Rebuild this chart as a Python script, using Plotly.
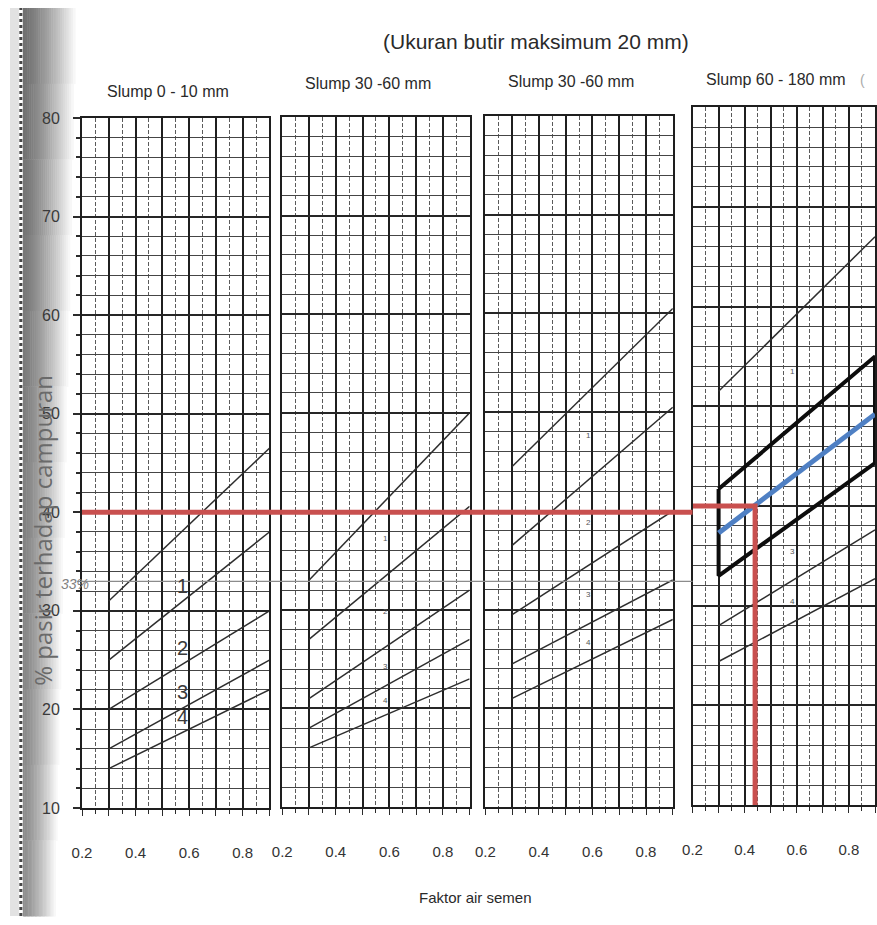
import plotly.graph_objects as go

# Faktor air semen at which every design curve starts and ends
fas_ujung = [0.3, 0.9]

# % pasir terhadap campuran at fas 0.3 and 0.9, curves 1..5 (top to bottom)
pasir_slump_0_10 = [[31, 46.5], [25, 38], [20, 30], [16, 25], [14, 22]]
pasir_slump_30_60_a = [[33, 50], [27, 40.5], [21, 32], [18, 27], [16, 23]]
pasir_slump_30_60_b = [[44.5, 60.5], [36.5, 50.5], [29.5, 40], [24.5, 33], [21, 29]]
pasir_slump_60_180 = [[51.5, 67], [41.7, 55], [33, 44.3], [28, 37.6], [24.4, 32.7]]

# Zone labels (numbers written between the curves)
label_panel1 = ["1", "2", "3", "4"]
label_kecil = ["1", "2", "3", "4"]
label_panel4 = ["1", "", "3", "4"]

# Selected design: middle line of the zone, chosen fas and resulting % sand
garis_tengah = [37.3, 49.2]
fas_terpilih = 0.44
pasir_terpilih = 40
pasir_catatan = 33

judul_panel = ["Slump 0 - 10 mm", "Slump 30 -60 mm", "Slump 30 -60 mm", "Slump 60 - 180 mm"]
x_ticks = [0.2, 0.3, 0.4, 0.5, 0.6, 0.7, 0.8, 0.9]
x_ticktext = ["0.2", "", "0.4", "", "0.6", "", "0.8", ""]
y_ticks = [10, 20, 30, 40, 50, 60, 70, 80]

W, H = 877, 925
FONT = "Liberation Sans Narrow, Arial Narrow, Liberation Sans, sans-serif"
INK = "#2b2b2b"


def px(x):
    return x / W


def py(y):
    return 1 - y / H


# panel placement (pixel edges)
panels_x = [(73, 263), (276, 466), (482, 672), (692, 877)]
panels_y = [(112, 815), (111, 814), (110, 814), (101, 812)]

fig = go.Figure()

for i, ((x0, x1), (y0, y1)) in enumerate(zip(panels_x, panels_y)):
    n = "" if i == 0 else str(i + 1)
    fig.layout["xaxis" + n] = dict(
        domain=[px(x0), px(x1)], range=[0.2, 0.9], anchor="y" + n,
        tickmode="array", tickvals=x_ticks, ticktext=x_ticktext,
        showgrid=True, gridcolor="#1f1f1f", gridwidth=1.6,
        minor=dict(tickmode="linear", tick0=0.2, dtick=0.05, showgrid=True,
                   gridcolor="#5a5a5a", gridwidth=1, griddash="4px,2px",
                   ticks="outside", ticklen=4, tickcolor=INK),
        ticks="outside", ticklen=6, tickcolor=INK, tickwidth=1.2,
        showline=True, mirror=True, linecolor="#1e1e1e", linewidth=2,
        zeroline=False, ticklabelstandoff=24,
        tickfont=dict(family=FONT, size=15, color="#333"),
    )
    fig.layout["yaxis" + n] = dict(
        domain=[py(y1), py(y0)], range=[10, 80], anchor="x" + n,
        tickmode="array", tickvals=y_ticks,
        showticklabels=(i == 0),
        showgrid=True, gridcolor="#262626", gridwidth=2.2,
        minor=dict(tickmode="linear", tick0=10, dtick=2, showgrid=True,
                   gridcolor="#454545", gridwidth=1.2,
                   ticks="outside" if i == 0 else "", ticklen=4, tickcolor=INK),
        ticks="outside" if i == 0 else "", ticklen=7, tickcolor=INK, tickwidth=1.5,
        showline=True, mirror=True, linecolor="#1e1e1e", linewidth=2,
        zeroline=False, ticklabelstandoff=10,
        tickfont=dict(family=FONT, size=16, color="#3a3a3a"),
    )

data_panels = [pasir_slump_0_10, pasir_slump_30_60_a, pasir_slump_30_60_b, pasir_slump_60_180]


def nilai(garis, x):
    a, b = garis
    return a + (b - a) * (x - fas_ujung[0]) / (fas_ujung[1] - fas_ujung[0])


for i, kurva in enumerate(data_panels):
    n = "" if i == 0 else str(i + 1)
    for garis in kurva:
        fig.add_trace(go.Scatter(
            x=fas_ujung, y=garis, mode="lines", xaxis="x" + n, yaxis="y" + n,
            line=dict(color="#2e2e2e", width=1.5), showlegend=False, hoverinfo="skip"))

# big zone numbers in the first panel, sitting just above the lower curve
for k, teks in enumerate(label_panel1):
    xl = 0.575
    fig.add_annotation(x=xl, y=nilai(pasir_slump_0_10[k + 1], xl) + 1.6,
                       xref="x", yref="y", text=teks, showarrow=False,
                       xanchor="center", yanchor="middle",
                       font=dict(family=FONT, size=20, color="#3a3a3a"))

# small zone numbers in the other panels, between consecutive curves
for i, (kurva, teks_list) in enumerate(zip(data_panels[1:], [label_kecil, label_kecil, label_panel4])):
    n = str(i + 2)
    xl = 0.585
    for k, teks in enumerate(teks_list):
        if not teks:
            continue
        ym = (nilai(kurva[k], xl) + nilai(kurva[k + 1], xl)) / 2
        fig.add_annotation(x=xl, y=ym, xref="x" + n, yref="y" + n, text=teks,
                           showarrow=False, xanchor="center", yanchor="middle",
                           font=dict(family=FONT, size=8, color="#555"))

# zone chosen in the last panel: outline between curves 2 and 3
atas, bawah = pasir_slump_60_180[1], pasir_slump_60_180[2]
fig.add_trace(go.Scatter(
    x=[fas_ujung[0], fas_ujung[1], fas_ujung[1], fas_ujung[0], fas_ujung[0]],
    y=[atas[0], atas[1], bawah[1], bawah[0], atas[0]],
    mode="lines", xaxis="x4", yaxis="y4",
    line=dict(color="#0d0d0d", width=4), showlegend=False, hoverinfo="skip"))

# middle line of the zone
fig.add_trace(go.Scatter(
    x=fas_ujung, y=garis_tengah, mode="lines", xaxis="x4", yaxis="y4",
    line=dict(color="#4f80c4", width=5), showlegend=False, hoverinfo="skip"))

# reading: fas -> % sand
fig.add_trace(go.Scatter(
    x=[0.2, fas_terpilih, fas_terpilih], y=[pasir_terpilih, pasir_terpilih, 10],
    mode="lines", xaxis="x4", yaxis="y4",
    line=dict(color="#c9504f", width=5), showlegend=False, hoverinfo="skip"))

shapes = []
# left page shadow of the scanned book: darker and wider near the top
n_band, steps = 12, 24
for b in range(n_band):
    ya, yb = H * b / n_band, H * (b + 1) / n_band
    frac = b / (n_band - 1)
    lebar = 66 - 20 * frac
    g0 = 112 + 30 * frac
    for s in range(steps):
        xa = 13 + (lebar - 13) * s / steps
        xb = 13 + (lebar - 13) * (s + 1) / steps
        t = (s / steps) ** 1.3
        g = int(g0 + (255 - g0) * t)
        shapes.append(dict(type="rect", xref="paper", yref="paper",
                           x0=px(xa), x1=px(xb) + 0.0006, y0=py(yb) - 0.0005, y1=py(ya),
                           fillcolor=f"rgb({g},{g},{g})", line=dict(width=0), layer="below"))
shapes.append(dict(type="rect", xref="paper", yref="paper", x0=0, x1=px(9), y0=0, y1=1,
                   fillcolor="#e2e2e2", line=dict(width=0), layer="below"))
shapes.append(dict(type="line", xref="paper", yref="paper", x0=px(11), x1=px(11), y0=0, y1=1,
                   line=dict(color="#474747", width=3, dash="dot"), layer="below"))

# handwritten 33 % guide line across the sheet
shapes.append(dict(type="line", xref="paper", yref="y", x0=px(68), x1=px(692),
                   y0=pasir_catatan, y1=pasir_catatan,
                   line=dict(color="#8c8c8c", width=1.2), layer="above"))
# red reading line across the first three panels
shapes.append(dict(type="line", xref="paper", yref="y", x0=px(73), x1=px(692),
                   y0=pasir_terpilih, y1=pasir_terpilih,
                   line=dict(color="#c9504f", width=5), layer="above"))

fig.update_layout(shapes=shapes)


def teks_kertas(x, y, teks, size, color="#2a2a2a", family=FONT, **kw):
    fig.add_annotation(x=px(x), y=py(y), xref="paper", yref="paper", text=teks,
                       showarrow=False, xanchor="center", yanchor="middle",
                       font=dict(family=family, size=size, color=color), **kw)


teks_kertas(533, 34, "(Ukuran butir maksimum 20 mm)", 21)
for (x0, x1), yt, teks in zip(panels_x, [85, 77, 75, 73], judul_panel):
    teks_kertas((x0 + x1) / 2 - 8, yt, teks, 16)
teks_kertas(864, 73, "(", 14, color="#aaaaaa")
teks_kertas(472, 906, "Faktor air semen", 15)
teks_kertas(33, 532, "% pasir terhadap campuran", 24, color="#6a6a6a",
            family="Open Sans, sans-serif", textangle=-90)

fig.add_annotation(x=px(66), y=pasir_catatan, xref="paper", yref="y",
                   text="<i>33%</i>", showarrow=False, yshift=-3,
                   xanchor="center", yanchor="middle",
                   font=dict(family=FONT, size=14, color="#808080"))

fig.update_layout(
    width=W, height=H, margin=dict(l=0, r=0, t=0, b=0),
    paper_bgcolor="white", plot_bgcolor="white", showlegend=False,
)

fig.write_html("out.html")
